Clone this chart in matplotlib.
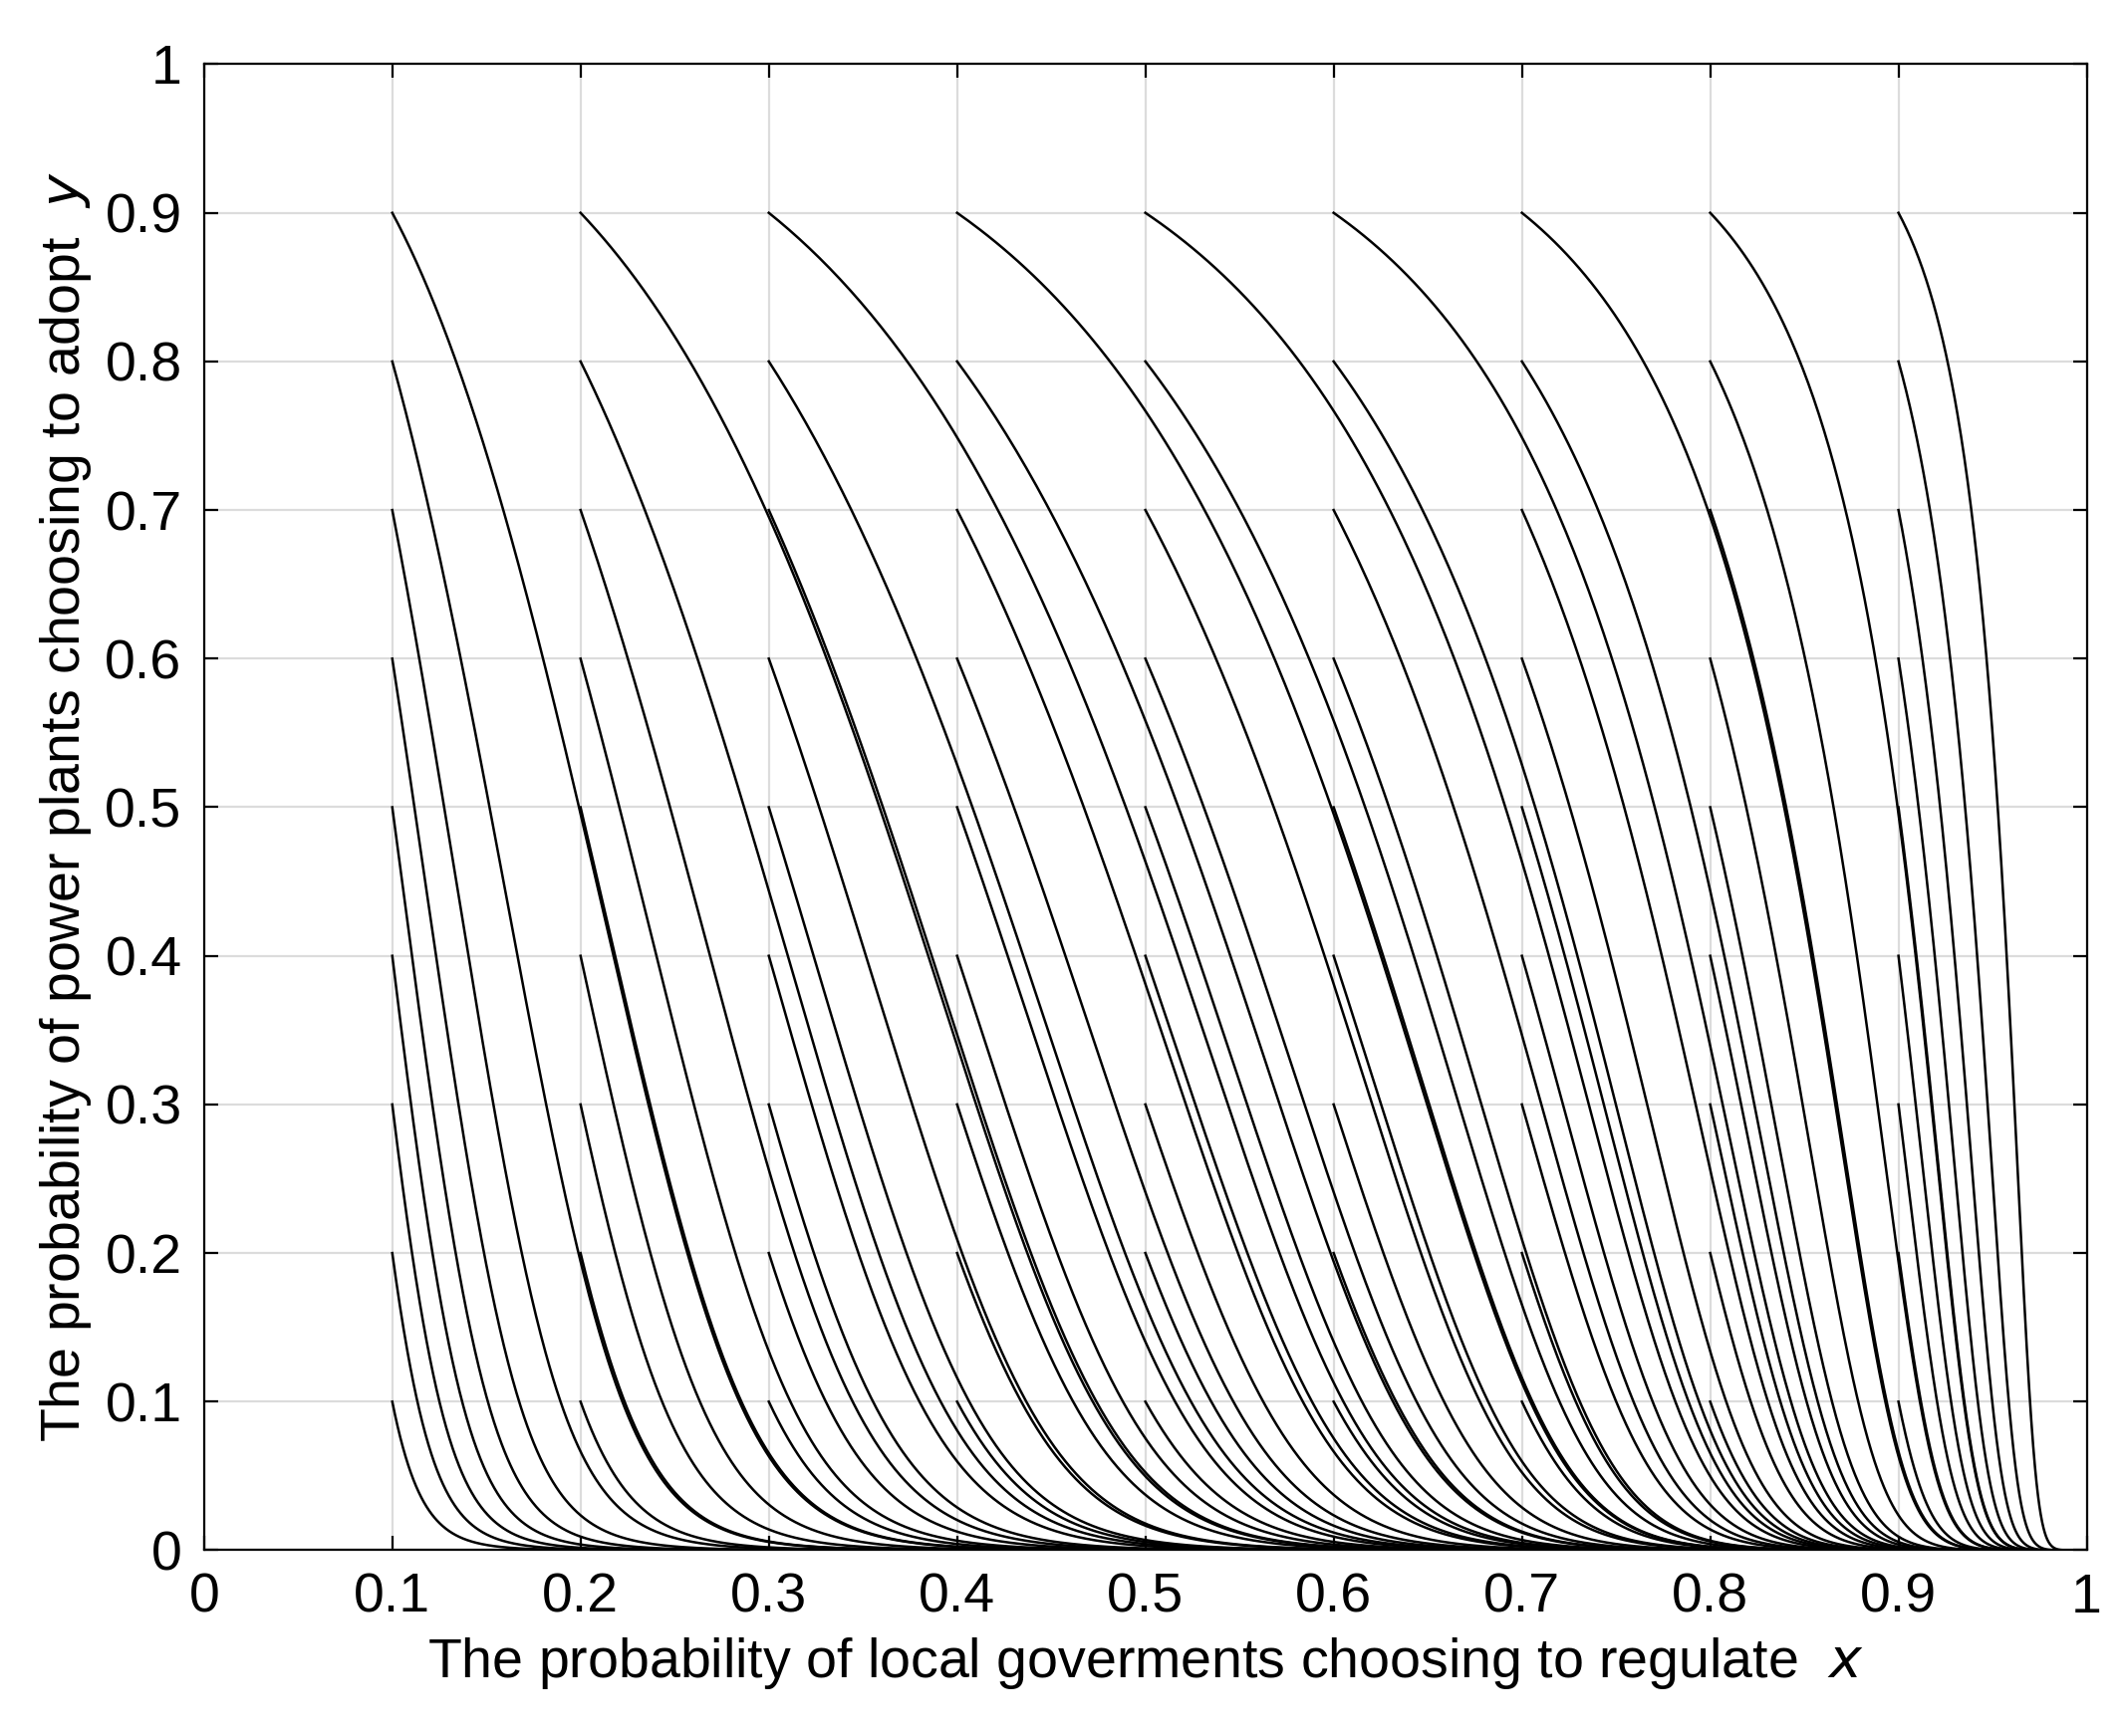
import numpy as np
import matplotlib
matplotlib.use("Agg")
import matplotlib.pyplot as plt

plt.rcParams['font.family'] = ['Liberation Sans', 'DejaVu Sans']

# starting points of trajectories
x_starts = [0.1, 0.2, 0.3, 0.4, 0.5, 0.6, 0.7, 0.8, 0.9]
y_starts = [0.1, 0.2, 0.3, 0.4, 0.5, 0.6, 0.7, 0.8, 0.9]
# estimated replicator-dynamics coefficients (dx = x(1-x)(a+b*y), dy = -c*y(1-y))
coef_a, coef_b, coef_c = 0.125, 0.33, 1.0

x_ticks = [0, 0.1, 0.2, 0.3, 0.4, 0.5, 0.6, 0.7, 0.8, 0.9, 1]
y_ticks = [0, 0.1, 0.2, 0.3, 0.4, 0.5, 0.6, 0.7, 0.8, 0.9, 1]

def traj(x0, y0, dt=0.02, T=120):
    xs, ys = [x0], [y0]
    x, y = x0, y0
    def f(x, y):
        return x*(1-x)*(coef_a+coef_b*y), -coef_c*y*(1-y)
    for _ in range(int(T / dt)):
        k1 = f(x, y); k2 = f(x+dt/2*k1[0], y+dt/2*k1[1])
        k3 = f(x+dt/2*k2[0], y+dt/2*k2[1]); k4 = f(x+dt*k3[0], y+dt*k3[1])
        x += dt/6*(k1[0]+2*k2[0]+2*k3[0]+k4[0])
        y += dt/6*(k1[1]+2*k2[1]+2*k3[1]+k4[1])
        xs.append(x); ys.append(y)
    return np.array(xs), np.array(ys)

fig = plt.figure(figsize=(2133/200, 1743/200), dpi=200)
ax = fig.add_axes([0.096, 0.107, 0.886, 0.856])
for x0 in x_starts:
    for y0 in y_starts:
        xs, ys = traj(x0, y0)
        ax.plot(xs, ys, color='black', lw=0.9)

ax.set_xlim(0, 1); ax.set_ylim(0, 1)
ax.set_xticks(x_ticks); ax.set_yticks(y_ticks)
ax.set_xticklabels([f"{t:g}" for t in x_ticks])
ax.set_yticklabels([f"{t:g}" for t in y_ticks])
ax.grid(True, color='#dcdcdc', lw=0.8)
ax.set_axisbelow(True)
ax.tick_params(direction='in', top=True, right=True, labelsize=20, length=5, pad=8)
for s in ax.spines.values():
    s.set_linewidth(0.8)
ax.set_xlabel(r"The probability of local goverments choosing to regulate  $\it{x}$", fontsize=20, labelpad=4)
ax.set_ylabel(r"The probability of power plants choosing to adopt  $\it{y}$", fontsize=20, labelpad=4)
fig.savefig("out.png", dpi=200)
